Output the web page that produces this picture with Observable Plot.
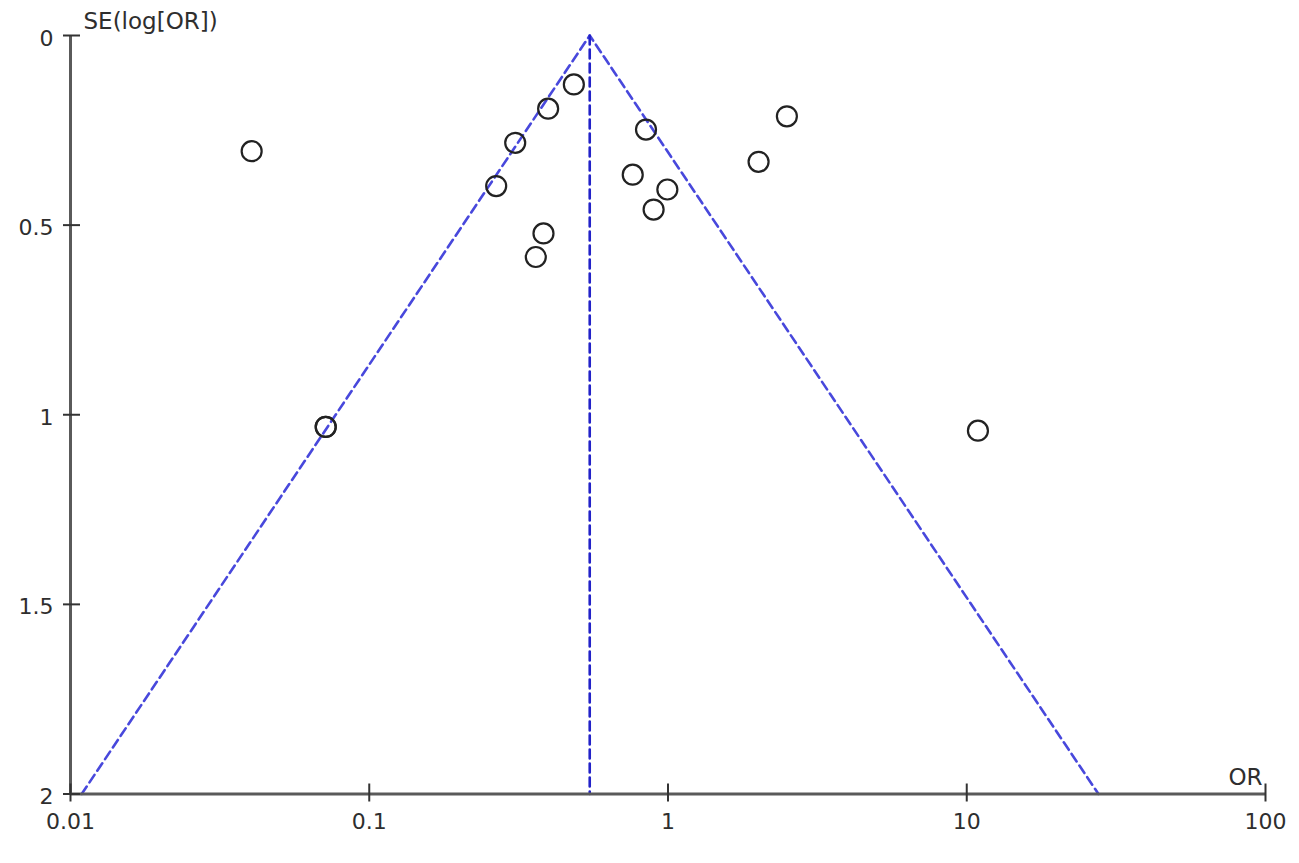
<!DOCTYPE html>
<html>
<head>
<meta charset="utf-8">
<script src="https://cdn.jsdelivr.net/npm/d3@7"></script>
<script src="https://cdn.jsdelivr.net/npm/@observablehq/plot@0.6"></script>
<style>
  html, body { margin: 0; padding: 0; background: #fff; }
  #chart svg { display: block; }
</style>
</head>
<body>
<div id="chart"></div>
<script>
// Study estimates
const studyOR = [0.0404, 0.0715, 0.0715, 0.484, 0.397, 0.308, 0.266, 0.383, 0.361, 0.844, 0.762, 0.995, 0.895, 2.01, 2.50, 10.9];
const studySE = [0.305, 1.032, 1.032, 0.129, 0.193, 0.283, 0.397, 0.522, 0.584, 0.248, 0.367, 0.406, 0.459, 0.333, 0.213, 1.042];

// Pooled estimate and 95% funnel limits (endpoints)
const pooledOR = [0.547, 0.547];
const pooledSE = [0, 2];
const funnelOR = [0.0109, 0.547, 27.6];
const funnelSE = [2, 0, 2];

// Axes
const xDomain = [0.01, 100];
const yDomain = [0, 2];
const xTicks = [0.01, 0.1, 1, 10, 100];
const yTicks = [0, 0.5, 1, 1.5, 2];
const xTitle = "OR";
const yTitle = "SE(log[OR])";

const studies = studyOR.map((or, i) => ({or, se: studySE[i]}));
const pooled = pooledOR.map((or, i) => ({or, se: pooledSE[i]}));
const funnel = funnelOR.map((or, i) => ({or, se: funnelSE[i]}));

const axisColor = "#5a5a5a";
const textColor = "#2e2e2e";

const chart = Plot.plot({
  width: 1299,
  height: 863,
  marginLeft: 70,
  marginRight: 34,
  marginTop: 35,
  marginBottom: 69.5,
  style: {fontFamily: "'DejaVu Sans', sans-serif", fontSize: "22px", color: textColor, background: "#fff"},
  x: {type: "log", domain: xDomain, label: null},
  y: {domain: yDomain, reverse: true, label: null},
  marks: [
    // funnel limits
    Plot.line(funnel, {x: "or", y: "se", stroke: "#4848dc", strokeWidth: 2.6, strokeDasharray: "9,5"}),
    Plot.line(pooled, {x: "or", y: "se", stroke: "#2222c8", strokeWidth: 2.6, strokeDasharray: "9,5"}),
    // studies
    Plot.dot(studies, {x: "or", y: "se", r: 10, stroke: "#222", strokeWidth: 2.2, fill: "none"}),
    // axis lines
    Plot.ruleX([xDomain[0]], {stroke: axisColor, strokeWidth: 3}),
    Plot.ruleY([yDomain[1]], {stroke: axisColor, strokeWidth: 3}),
    // crossing ticks
    Plot.axisX({anchor: "bottom", ticks: xTicks, tickSize: 18, dy: -10, tickFormat: () => "", stroke: "#333", strokeWidth: 2, label: null}),
    Plot.axisY({anchor: "left", ticks: yTicks, tickSize: 17, dx: 10, tickFormat: () => "", stroke: "#333", strokeWidth: 2, label: null}),
    // tick labels
    Plot.axisX({anchor: "bottom", ticks: xTicks, tickSize: 0, tickPadding: 19, tickFormat: d => String(d), fill: textColor, label: null}),
    Plot.axisY({anchor: "left", ticks: yTicks, tickSize: 0, tickPadding: 17, dy: 3, tickFormat: d => String(d), fill: textColor, label: null}),
    // axis titles
    Plot.text([yTitle], {frameAnchor: "top-left", textAnchor: "start", lineAnchor: "middle", dx: 13, dy: -14, fill: textColor, fontSize: 23}),
    Plot.text([xTitle], {frameAnchor: "bottom-right", textAnchor: "end", lineAnchor: "middle", dx: -3, dy: -16, fill: textColor, fontSize: 23})
  ]
});

document.getElementById("chart").appendChild(chart);
</script>
</body>
</html>
